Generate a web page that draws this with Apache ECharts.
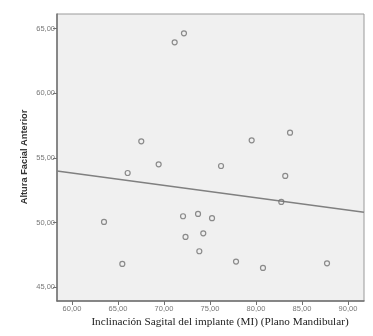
<!DOCTYPE html>
<html>
<head>
<meta charset="utf-8">
<script src="https://cdn.jsdelivr.net/npm/echarts@6/dist/echarts.min.js"></script>
<style>html,body{margin:0;padding:0;background:#fff;}#c{width:373px;height:336px;}</style>
</head>
<body>
<div id="c"></div>
<script>
var xValues = [71.16, 72.17, 67.53, 69.42, 79.53, 83.70, 76.20, 66.05, 83.18, 82.75, 63.48, 65.47, 72.07, 72.34, 73.70, 75.22, 74.27, 73.84, 77.83, 80.76, 87.72];
var yValues = [63.95, 64.64, 56.28, 54.50, 56.36, 56.95, 54.37, 53.83, 53.60, 51.59, 50.04, 46.79, 50.48, 48.88, 50.66, 50.33, 49.16, 47.77, 46.97, 46.48, 46.84];
var fitX = [58.37, 91.74];
var fitY = [53.99, 50.79];
var xTicks = [60, 65, 70, 75, 80, 85, 90];
var yTicks = [45, 50, 55, 60, 65];
var xTitle = 'Inclinación Sagital del implante (MI) (Plano Mandibular)';
var yTitle = 'Altura Facial Anterior';

var pts = xValues.map(function (x, i) { return [x, yValues[i]]; });
var line = fitX.map(function (x, i) { return [x, fitY[i]]; });
function fmt(v) { return v.toFixed(2).replace('.', ','); }

var chart = echarts.init(document.getElementById('c'));
chart.setOption({
  animation: false,
  backgroundColor: '#fff',
  grid: { left: 57, top: 14, width: 307, height: 287, show: true, backgroundColor: '#f0f0f0', borderColor: '#9a9a9a', borderWidth: 1 },
  xAxis: {
    type: 'value', min: 58.37, max: 91.74,
    axisLine: { show: true, lineStyle: { color: '#707070', width: 1.5 } },
    axisTick: { show: true, customValues: xTicks, length: 4, lineStyle: { color: '#707070' } },
    axisLabel: { customValues: xTicks, formatter: fmt, fontSize: 7.5, color: '#777', fontFamily: 'Arial, Liberation Sans', margin: 4 },
    splitLine: { show: false }
  },
  yAxis: {
    type: 'value', min: 43.92, max: 66.14,
    axisLine: { show: true, lineStyle: { color: '#707070', width: 1.5 } },
    axisTick: { show: true, customValues: yTicks, length: 4, lineStyle: { color: '#707070' } },
    axisLabel: { customValues: yTicks, formatter: fmt, fontSize: 7.5, color: '#777', fontFamily: 'Arial, Liberation Sans', margin: 2 },
    splitLine: { show: false }
  },
  graphic: [
    { type: 'text', x: 220, y: 322, style: { text: xTitle, align: 'center', verticalAlign: 'middle', font: '11.2px "Liberation Serif", serif', fill: '#222' } },
    { type: 'text', rotation: Math.PI / 2, x: 24, y: 157, style: { text: yTitle, align: 'center', verticalAlign: 'middle', font: 'bold 9.3px "Liberation Sans", Arial, sans-serif', fill: '#333' } }
  ],
  series: [
    { type: 'line', data: line, showSymbol: false, symbol: 'none', lineStyle: { color: '#808080', width: 1.5 }, z: 2 },
    { type: 'scatter', data: pts, symbol: 'circle', symbolSize: 5, itemStyle: { color: 'rgba(0,0,0,0)', borderColor: '#707070', borderWidth: 1.2 }, z: 3 }
  ]
});
</script>
</body>
</html>
